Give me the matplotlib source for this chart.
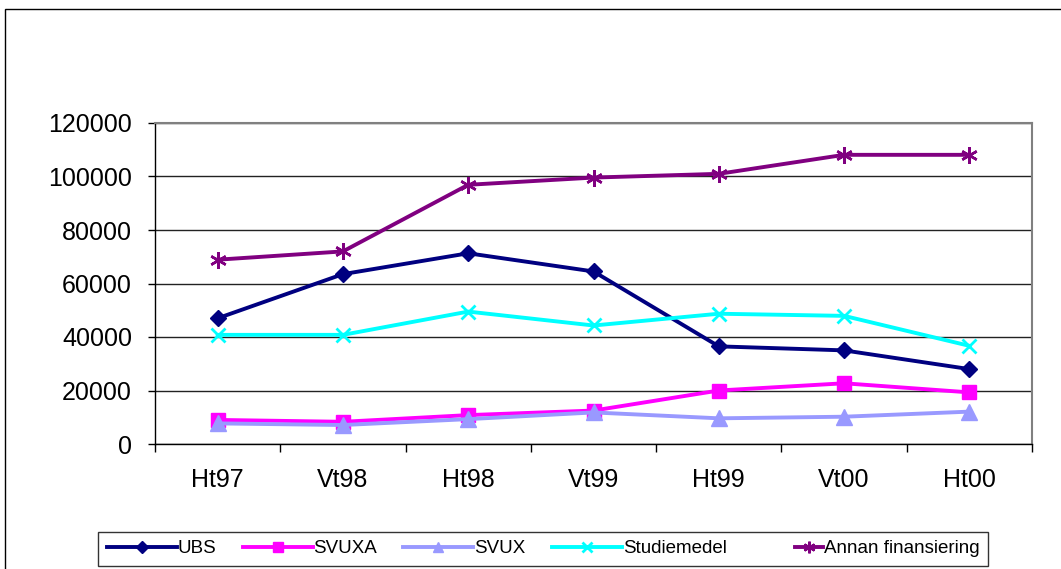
import numpy as np
import matplotlib.pyplot as plt
from matplotlib.patches import Rectangle
from matplotlib.legend_handler import HandlerLine2D

plt.rcParams['font.family'] = ['Liberation Sans', 'DejaVu Sans']

terms = ['Ht97', 'Vt98', 'Ht98', 'Vt99', 'Ht99', 'Vt00', 'Ht00']
ubs = [47000, 63500, 71300, 64500, 36500, 35000, 28000]
svuxa = [9000, 8300, 10800, 12500, 20000, 22700, 19300]
svux = [7700, 7100, 9300, 11800, 9600, 10200, 12100]
studiemedel = [40800, 40800, 49500, 44300, 48700, 47900, 36700]
annan = [68900, 72000, 96900, 99600, 101000, 108100, 108100]


# legend line that only uses the right part of its slot
class ShortLine(HandlerLine2D):
    def __init__(self, frac, **kw):
        super().__init__(**kw)
        self.frac = frac

    def create_artists(self, legend, orig_handle, xdescent, ydescent,
                       width, height, fontsize, trans):
        w = width * self.frac
        return super().create_artists(legend, orig_handle,
                                      xdescent - (width - w), ydescent,
                                      w, height, fontsize, trans)


fig = plt.figure(figsize=(10.61, 5.69), dpi=100)
# outer chart border
fig.patches.append(Rectangle((5 / 1061, -0.05), 1.1, 1 - 9 / 569 + 0.05,
                             transform=fig.transFigure, fill=False,
                             edgecolor='black', lw=1))
ax = fig.add_axes([155 / 1061, 1 - 444 / 569, 877 / 1061, 321 / 569])

x = np.arange(len(terms))
lw = 2.8
ax.plot(x, ubs, color='#000080', lw=lw, marker='D', ms=8.5, label='UBS')
ax.plot(x, svuxa, color='#FF00FF', lw=lw, marker='s', ms=10, label='SVUXA')
ax.plot(x, svux, color='#9999FF', lw=lw, marker='^', ms=11, label='SVUX')
ax.plot(x, studiemedel, color='#00FFFF', lw=lw, marker='x', ms=10, mew=2,
        label='Studiemedel')
l_annan, = ax.plot(x, annan, color='#800080', lw=lw, marker=(6, 2, 0), ms=12,
                   mew=1.8, label='Annan finansiering')

ax.set_xlim(-0.5, len(terms) - 0.5)
ax.set_ylim(0, 120000)
ax.set_yticks(np.arange(0, 120001, 20000))
ax.set_yticklabels([str(v) for v in range(0, 120001, 20000)])
ax.set_xticks(x)
ax.set_xticklabels(terms)
ax.set_xticks(np.arange(-0.5, len(terms)), minor=True)
ax.tick_params(axis='x', which='major', length=0, pad=17, labelsize=18)
ax.tick_params(axis='x', which='minor', length=5.8, width=1, direction='out')
ax.tick_params(axis='y', length=5, width=1, direction='out', pad=11.5,
               labelsize=18)
ax.grid(axis='y', color='#222222', lw=1)
ax.set_axisbelow(True)
for side in ['top', 'right']:
    ax.spines[side].set_color('#808080')
    ax.spines[side].set_linewidth(1.5)
for side in ['left', 'bottom']:
    ax.spines[side].set_color('black')
    ax.spines[side].set_linewidth(1)

leg = fig.legend(loc='center', bbox_to_anchor=(543 / 1061, 1 - 548.5 / 569),
                 ncol=5, fontsize=13.5, frameon=True, fancybox=False,
                 handlelength=3.73, columnspacing=1.4, handletextpad=0.05,
                 borderpad=0.45, markerscale=0.7,
                 handler_map={l_annan: ShortLine(0.4)})
leg.get_frame().set_edgecolor('black')
leg.get_frame().set_linewidth(1)

plt.savefig('out.png')
